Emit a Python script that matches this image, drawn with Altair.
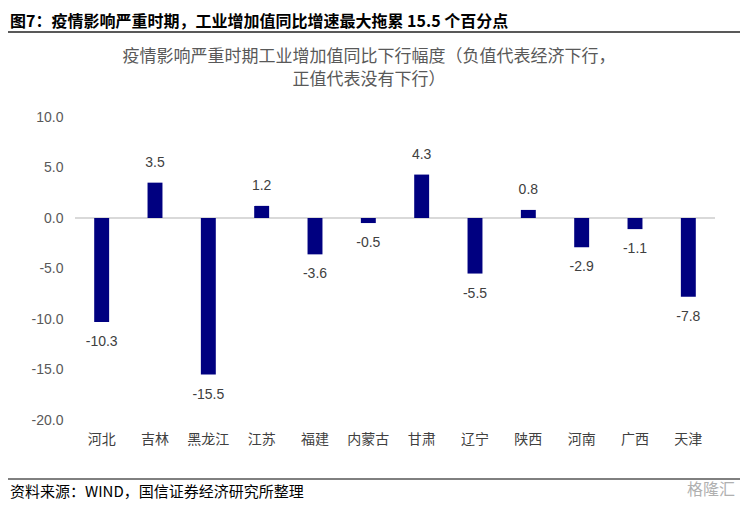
import altair as alt
import pandas as pd

provinces = ["河北", "吉林", "黑龙江", "江苏", "福建", "内蒙古", "甘肃", "辽宁", "陕西", "河南", "广西", "天津"]
values = [-10.3, 3.5, -15.5, 1.2, -3.6, -0.5, 4.3, -5.5, 0.8, -2.9, -1.1, -7.8]
y_ticks = [-20, -15, -10, -5, 0, 5, 10]

header = "图7：疫情影响严重时期，工业增加值同比增速最大拖累 15.5 个百分点"
title1 = "疫情影响严重时期工业增加值同比下行幅度（负值代表经济下行，"
title2 = "正值代表没有下行）"
source = "资料来源：WIND，国信证券经济研究所整理"
watermark = "格隆汇"

df = pd.DataFrame({"prov": provinces, "val": values})
df["label"] = [f"{v:.1f}" for v in values]

NUM_FONT = "Liberation Sans"
CJK_FONT = "Noto Sans CJK SC"

x_enc = alt.X(
    "prov:N",
    sort=provinces,
    scale=alt.Scale(paddingInner=0.72, paddingOuter=0.36),
    axis=alt.Axis(
        title=None, labelAngle=0, ticks=False, domain=False, labelPadding=12,
        labelFontSize=14, labelColor="#404040", labelFont=CJK_FONT,
    ),
)
y_enc = alt.Y(
    "val:Q",
    scale=alt.Scale(domain=[-20, 10], nice=False),
    axis=alt.Axis(
        title=None, values=y_ticks, grid=False, ticks=False, domain=False,
        labelPadding=12, labelFontSize=14, labelColor="#595959", labelFont=NUM_FONT,
        labelExpr="replace(format(datum.value, '.1f'), '\u2212', '-')",
    ),
)

base = alt.Chart(df)

zero = base.mark_rule(color="#d9d9d9", strokeWidth=1.5).encode(y=alt.datum(0))
bars = base.mark_bar(color="#000080").encode(x=x_enc, y=y_enc)
pos_lab = base.transform_filter("datum.val >= 0").mark_text(
    dy=-20, fontSize=14, color="#404040", font=NUM_FONT, baseline="middle"
).encode(x=alt.X("prov:N", sort=provinces), y="val:Q", text="label:N")
neg_lab = base.transform_filter("datum.val < 0").mark_text(
    dy=20, fontSize=14, color="#404040", font=NUM_FONT, baseline="middle"
).encode(x=alt.X("prov:N", sort=provinces), y="val:Q", text="label:N")

one = pd.DataFrame({"k": [0]})


def txt(s, x, y, **kw):
    return alt.Chart(one).mark_text(**kw).encode(
        x=alt.value(x), y=alt.value(y), text=alt.value(s)
    )


def hline(x1, x2, y, **kw):
    return alt.Chart(one).mark_rule(**kw).encode(
        x=alt.value(x1), x2=alt.value(x2), y=alt.value(y)
    )


head = txt(header, -65, -95, align="left", baseline="middle", fontSize=16,
           fontWeight="bold", font=CJK_FONT, color="#000000")
head_line = hline(-67, 665, -85, color="#595959", strokeWidth=2)
t1 = txt(title1, 294, -60, align="center", baseline="middle", fontSize=17,
         font=CJK_FONT, color="#595959")
t2 = txt(title2, 294, -37, align="center", baseline="middle", fontSize=17,
         font=CJK_FONT, color="#595959")
src_line = hline(-67, 665, 362, color="#000000", strokeWidth=1)
src = txt(source, -65, 375, align="left", baseline="middle", fontSize=15,
          font=CJK_FONT, color="#000000")
wm = txt(watermark, 660, 373, align="right", baseline="middle", fontSize=16,
         font=CJK_FONT, color="#b0b0b0")

chart = alt.layer(
    zero, bars, pos_lab, neg_lab, head, head_line, t1, t2, src_line, src, wm
).properties(
    width=640, height=303,
    autosize=alt.AutoSizeParams(type="none"),
    padding={"left": 67, "top": 109, "right": 25, "bottom": 81},
).configure(
    background="white",
    view=alt.ViewConfig(stroke="transparent", strokeWidth=0),
)

chart.save("out.html", embed_options={"renderer": "svg", "actions": False})
